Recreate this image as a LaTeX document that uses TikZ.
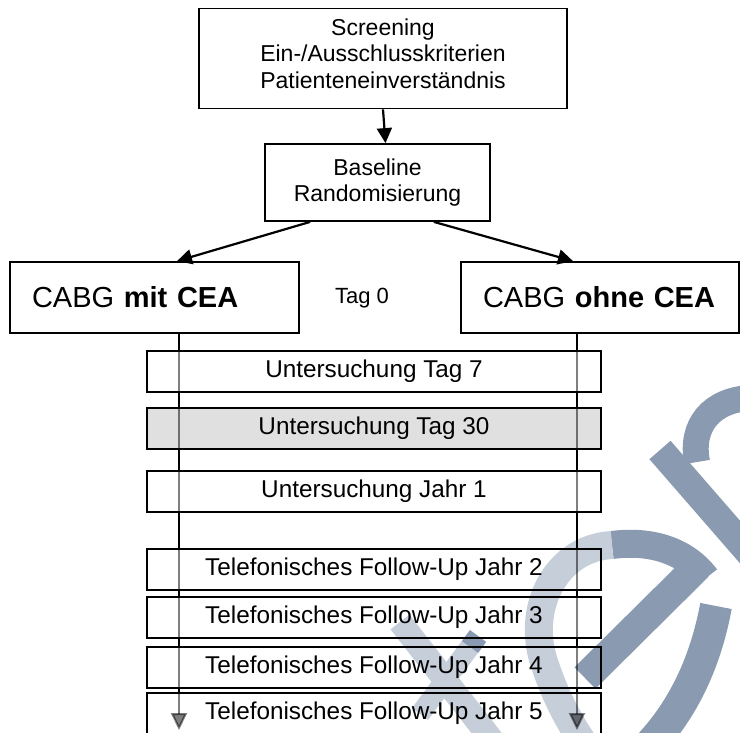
\documentclass[tikz,border=0pt]{standalone}
\usepackage{fontspec}
\setmainfont{Liberation Sans}
\usepackage{xcolor}
\usetikzlibrary{positioning,arrows.meta,backgrounds}
\definecolor{boxgray}{RGB}{224,224,224}
\definecolor{wmlight}{RGB}{197,206,217}
\definecolor{wmdark}{RGB}{138,155,177}
\tikzset{
		>={Triangle[length=15pt,width=15pt]},
		headbox/.style={draw, line width=1.8pt, align=center, inner sep=0pt,
			font=\fontsize{23}{26.5}\selectfont},
		armbox/.style={draw, line width=1.8pt, align=left, inner xsep=22pt,
			minimum height=71pt, font=\fontsize{29}{34}\selectfont},
		stepbox/.style={draw, line width=1.8pt, minimum width=454pt,
			minimum height=41pt, inner sep=0pt, font=\fontsize{24.3}{28}\selectfont},
		timeline/.style={black, opacity=0.5, line width=2pt,
			-{Triangle[length=17pt,width=16pt]}}
	}
\newcommand{\lowpad}{\rule[-10pt]{0pt}{10pt}}

\begin{document}
\begin{tikzpicture}[x=1pt, y=-1pt]
		\useasboundingbox (0,0) rectangle (740,733);
		% study entry
		\node[headbox, minimum width=368pt, minimum height=100pt] (screen) at (383,58.5)
			{Screening\\Ein-/Ausschlusskriterien\\Patienteneinverständnis\lowpad};
		\node[headbox, minimum width=225pt, minimum height=77pt] (base) at (377.5,182.5)
			{Baseline\\Randomisierung};
		\node[armbox, text width=245pt] (mit) at (154.5,297.5) {CABG \textbf{mit CEA}};
		\node[armbox, text width=234pt] (ohne) at (600,297.5) {CABG \textbf{ohne CEA}};
		\node[font=\fontsize{22}{26}\selectfont] (tag0) at (362,298) {Tag 0};
		% visits
		\node[stepbox] (tag7) at (374,371.5) {Untersuchung Tag 7};
		\node[stepbox, fill=boxgray] (tag30) at (374,428.5) {Untersuchung Tag 30};
		\node[stepbox] (jahr1) at (374,491.5) {Untersuchung Jahr 1};
		\foreach \j/\y in {2/569.5, 3/617.5, 4/667.5, 5/713.5}
			\node[stepbox] (fu\j) at (374,\y) {Telefonisches Follow-Up Jahr \j};
		\coordinate (endA) at (179,730);
		\coordinate (endB) at (577,730);
		% time lines between the boxes
		\foreach \a/\b in {mit/tag7, tag7/tag30, tag30/jahr1, jahr1/fu2, fu2/fu3, fu3/fu4, fu4/fu5}
			\draw[line width=2.5pt] (\a.south -| endA) -- (\b.north -| endA);
		\foreach \a/\b in {ohne/tag7, tag7/tag30, tag30/jahr1, jahr1/fu2, fu2/fu3, fu3/fu4, fu4/fu5}
			\draw[line width=2.5pt] (\a.south -| endB) -- (\b.north -| endB);
		\draw[->, line width=2.2pt] (screen.south) -- ([xshift=8pt]base.north);
		\draw[->, line width=2.2pt] ([xshift=46pt]base.south west) -- ([xshift=22.5pt]mit.north);
		\draw[->, line width=2.2pt] ([xshift=-57pt]base.south east) -- ([xshift=-27pt]ohne.north);
		\draw[timeline] (mit.south -| endA) -- (endA);
		\draw[timeline] (ohne.south -| endB) -- (endB);
		% watermark
		\begin{scope}[on background layer]
			\draw[wmlight, line width=24pt] (400,622) -- (492,740);
			\draw[wmlight, line width=20pt] (478,636) -- (420,714);
			\draw[wmdark, line width=20pt] (478,636) -- (470,647);
			\draw[wmdark, line width=30pt] (698,566) -- (585,678);
			\draw[wmdark, line width=28pt] (706,578) .. controls (685,550) and (650,540) .. (612,545);
			\draw[wmlight, line width=28pt] (612,545) .. controls (555,548) and (525,610) .. (545,665)
				.. controls (560,710) and (580,740) .. (602,768);
			\draw[wmdark, line width=32pt] (716,606) .. controls (705,665) and (680,720) .. (632,762);
			\draw[wmdark, line width=28pt] (660,450) -- (760,565);
			\draw[wmdark, line width=26pt] (697,462) .. controls (690,425) and (712,400) .. (750,398);
		\end{scope}
	\end{tikzpicture}
\end{document}
